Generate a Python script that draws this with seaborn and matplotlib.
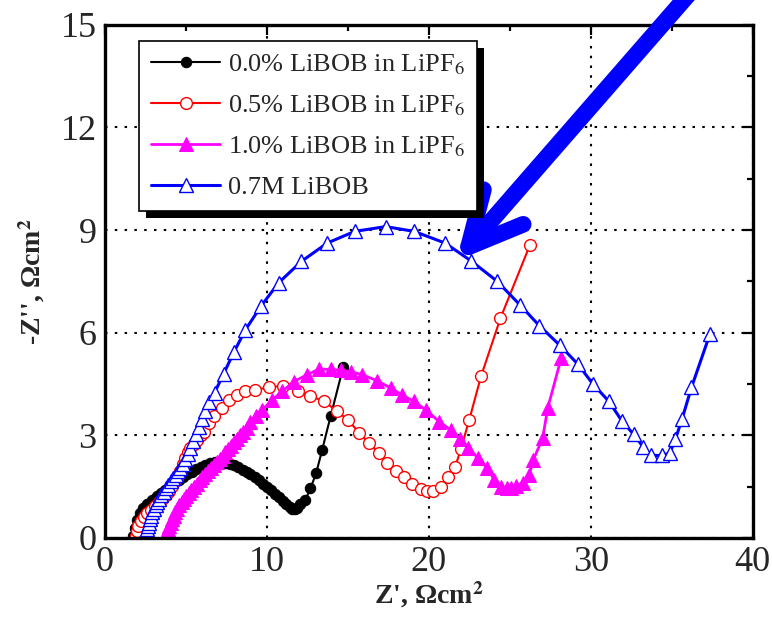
import numpy as np
import pandas as pd
import matplotlib
matplotlib.use("Agg")
import matplotlib.pyplot as plt
from matplotlib.patches import Rectangle
from matplotlib.ticker import MultipleLocator
import seaborn as sns

# Nyquist data (Z' and -Z'' in Ohm cm2)
x_00 = [1.75, 1.85, 1.96, 2.15, 2.37, 2.6, 2.89, 3.2, 3.45, 3.72, 4.0, 4.27, 4.54, 4.8,
        5.08, 5.36, 5.65, 5.92, 6.19, 6.5, 6.81, 7.1, 7.4, 7.7, 7.95, 8.2, 8.5, 8.75,
        8.98, 9.25, 9.5, 9.75, 10.0, 10.25, 10.5, 10.75, 11.0, 11.2, 11.4, 11.56, 11.72,
        11.88, 12.05, 12.38, 12.69, 13.04, 13.41, 13.93, 14.71]
y_00 = [0.05, 0.3, 0.53, 0.72, 0.87, 1.0, 1.11, 1.22, 1.31, 1.40, 1.50, 1.60, 1.70, 1.78,
        1.86, 1.94, 2.01, 2.07, 2.13, 2.18, 2.21, 2.22, 2.20, 2.16, 2.12, 2.06, 1.99, 1.93,
        1.87, 1.78, 1.68, 1.59, 1.50, 1.40, 1.29, 1.19, 1.08, 0.98, 0.90, 0.85, 0.84,
        0.88, 0.98, 1.11, 1.45, 1.89, 2.57, 3.55, 4.99]

x_05 = [1.9, 1.95, 2.05, 2.2, 2.4, 2.6, 2.85, 3.1, 3.35, 3.55, 3.75, 3.95, 4.15, 4.33,
        4.5, 4.65, 4.8, 4.95, 5.1, 5.26, 5.47, 5.68, 5.9, 6.09, 6.4, 6.71, 7.22, 7.64,
        8.15, 8.67, 9.29, 10.15, 11.0, 11.9, 12.69, 13.52, 14.3, 15.0, 15.69, 16.3,
        16.92, 17.44, 17.96, 18.47, 18.98, 19.5, 19.9, 20.28, 20.74, 21.16, 21.63,
        21.98, 22.5, 23.22, 24.42, 26.25]
y_05 = [0.05, 0.2, 0.35, 0.48, 0.6, 0.72, 0.83, 0.93, 1.05, 1.15, 1.25, 1.38, 1.52, 1.65,
        1.8, 1.95, 2.15, 2.35, 2.5, 2.62, 2.75, 2.87, 3.0, 3.11, 3.35, 3.55, 3.79, 4.03,
        4.18, 4.28, 4.33, 4.40, 4.45, 4.30, 4.15, 3.99, 3.72, 3.45, 3.08, 2.77,
        2.48, 2.2, 1.96, 1.79, 1.58, 1.43, 1.36, 1.37, 1.50, 1.77, 2.08,
        2.6, 3.46, 4.72, 6.42, 8.57]

x_10 = [3.8, 3.85, 3.9, 3.97, 4.05, 4.14, 4.24, 4.35, 4.47, 4.6, 4.74, 4.88, 5.03, 5.18,
        5.34, 5.5, 5.67, 5.84, 6.01, 6.18, 6.36, 6.54, 6.72, 6.9, 7.08, 7.26, 7.44, 7.62,
        7.8, 7.98, 8.16, 8.35, 8.55, 8.75, 8.98, 9.3, 9.7, 10.32, 10.94, 11.66, 12.49,
        13.2, 13.93, 14.6, 15.17, 15.89, 16.78, 17.65, 18.37, 19.09, 19.81, 20.64, 21.36,
        21.94, 22.43, 23.05, 23.6, 24.04, 24.46, 24.8, 25.08, 25.4, 25.8, 26.2, 26.45,
        27.03, 27.34, 28.17]
y_10 = [0.05, 0.15, 0.25, 0.35, 0.45, 0.55, 0.65, 0.75, 0.85, 0.95, 1.05, 1.14, 1.23, 1.32,
        1.41, 1.5, 1.59, 1.68, 1.77, 1.86, 1.95, 2.04, 2.13, 2.22, 2.31, 2.4, 2.5, 2.6,
        2.7, 2.8, 2.9, 3.0, 3.1, 3.22, 3.38, 3.55, 3.74, 4.03, 4.28, 4.57, 4.77,
        4.93, 4.93, 4.9, 4.86, 4.77, 4.60, 4.38, 4.17, 3.99, 3.74, 3.40, 3.15,
        2.89, 2.62, 2.33, 2.04, 1.70, 1.50, 1.45, 1.45, 1.52, 1.60, 1.84, 2.28,
        2.92, 3.79, 5.25]

x_07m = [2.5, 2.55, 2.6, 2.65, 2.7, 2.77, 2.85, 2.93, 3.02, 3.12, 3.23, 3.35, 3.48, 3.62,
         3.77, 3.92, 4.07, 4.22, 4.37, 4.52, 4.66, 4.8, 4.95, 5.1, 5.25, 5.42, 5.6, 5.8,
         6.0, 6.2, 6.4, 6.77, 7.33, 7.95, 8.67, 9.64, 10.73, 12.12, 13.73, 15.42, 17.34,
         19.09, 21.0, 22.6, 24.2, 25.65, 26.83, 28.07, 29.2, 30.13, 31.12, 31.92, 32.64,
         33.25, 33.7, 34.37, 34.88, 35.23, 35.64, 36.22, 37.36]
y_07m = [0.05, 0.15, 0.25, 0.35, 0.45, 0.55, 0.65, 0.75, 0.85, 0.95, 1.05, 1.15, 1.25, 1.35,
         1.45, 1.55, 1.65, 1.75, 1.85, 1.95, 2.05, 2.16, 2.3, 2.45, 2.62, 2.82, 3.03, 3.25,
         3.48, 3.72, 3.98, 4.25, 4.8, 5.42, 6.08, 6.78, 7.46, 8.08, 8.62, 8.96, 9.1,
         8.96, 8.62, 8.10, 7.51, 6.8, 6.2, 5.64, 5.08, 4.50, 3.99, 3.42, 3.03,
         2.65, 2.41, 2.41, 2.48, 2.89, 3.48, 4.40, 5.96]

labels = ["0.0% LiBOB in LiPF$_6$", "0.5% LiBOB in LiPF$_6$",
          "1.0% LiBOB in LiPF$_6$", "0.7M LiBOB"]

sns.set_style("white")
plt.rcParams['font.family'] = ['Liberation Serif', 'DejaVu Serif']
plt.rcParams['mathtext.fontset'] = 'stix'

fig, ax = plt.subplots(figsize=(7.72, 6.19), dpi=100)
fig.subplots_adjust(left=0.136, right=0.975, top=0.960, bottom=0.131)

styles = [
    (x_00, y_00, dict(color='black', marker='o', markersize=7.5, markerfacecolor='black',
                      markeredgecolor='black', linewidth=1.5)),
    (x_05, y_05, dict(color='red', marker='o', markersize=8.5, markerfacecolor='white',
                      markeredgecolor='red', markeredgewidth=1.0, linewidth=1.5)),
    (x_10, y_10, dict(color='magenta', marker='^', markersize=10, markerfacecolor='magenta',
                      markeredgecolor='magenta', linewidth=2)),
    (x_07m, y_07m, dict(color='blue', marker='^', markersize=10, markerfacecolor='white',
                        markeredgecolor='blue', markeredgewidth=1.0, linewidth=2.2)),
]
for (xs, ys, kw), lab in zip(styles, labels):
    df = pd.DataFrame({'x': xs, 'y': ys})
    sns.lineplot(data=df, x='x', y='y', sort=False, estimator=None, ax=ax, label=lab, **kw)

ax.set_xlim(0, 40)
ax.set_ylim(0, 15)
ax.xaxis.set_major_locator(MultipleLocator(10))
ax.xaxis.set_minor_locator(MultipleLocator(5))
ax.yaxis.set_major_locator(MultipleLocator(3))
ax.yaxis.set_minor_locator(MultipleLocator(1.5))
ax.tick_params(which='both', direction='in', top=True, right=True, width=1.6,
               labelsize=26, pad=6, color='black')
ax.tick_params(which='major', length=7)
ax.tick_params(which='minor', length=4.5)
ax.grid(True, which='major', color='black', linestyle=(0, (1.2, 3.5)), linewidth=1.5)
for sp in ax.spines.values():
    sp.set_linewidth(2.4)
    sp.set_color('black')

ax.set_xlabel("Z', Ωcm$^\\mathbf{2}$", fontsize=20, fontweight='bold', labelpad=0)
ax.set_ylabel("-Z'', Ωcm$^\\mathbf{2}$", fontsize=20, fontweight='bold', labelpad=10)

leg = ax.legend(loc='upper left', bbox_to_anchor=(0.052, 0.969), borderaxespad=0,
                fontsize=19, frameon=True, fancybox=False, numpoints=1,
                handlelength=2.65, handletextpad=0.3, labelspacing=0.62,
                borderpad=0.45)
leg.get_frame().set_edgecolor('black')
leg.get_frame().set_linewidth(1.2)
leg.get_frame().set_alpha(1)
leg.set_zorder(6)

# solid black drop shadow under the legend box
fig.canvas.draw()
bb = leg.get_window_extent()
inv = ax.transAxes.inverted()
(x0, y0), (x1, y1) = inv.transform([[bb.x0 + 7, bb.y0 - 7], [bb.x1 + 7, bb.y1 - 7]])
ax.add_patch(Rectangle((x0, y0), x1 - x0, y1 - y0, transform=ax.transAxes,
                       facecolor='black', edgecolor='none', zorder=5.5, clip_on=False))

ax.annotate('', xy=(21.7, 8.1), xytext=(36.8, 16.3), annotation_clip=False,
            arrowprops=dict(arrowstyle='->,head_length=3.8,head_width=1.9',
                            color='blue', lw=12, shrinkA=0, shrinkB=0,
                            capstyle='round', joinstyle='round'))

fig.savefig('out.png', dpi=100)
